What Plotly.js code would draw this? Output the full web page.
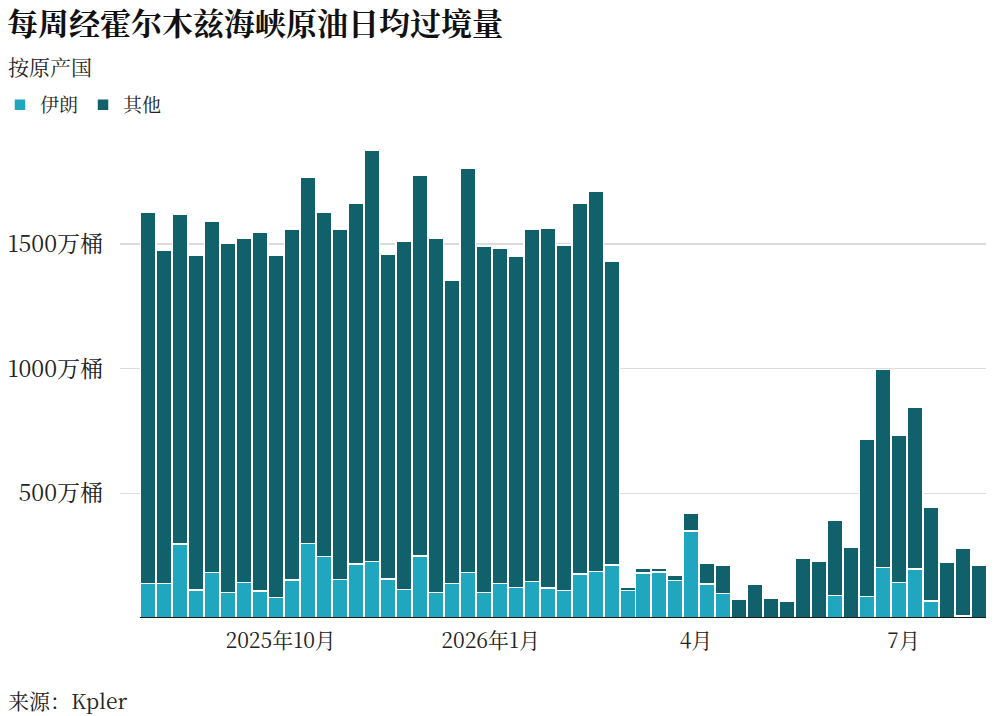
<!DOCTYPE html>
<html>
<head>
<meta charset="utf-8">
<script src="https://cdn.plot.ly/plotly-3.0.1.min.js"></script>
<style>
  html, body { margin: 0; padding: 0; background: #fff; }
  #chart { width: 999px; height: 716px; }
</style>
</head>
<body>
<div id="chart"></div>
<script>
// weekly volumes, 万桶/日
var startWeek = '2025-08-04';
var iran = [139, 139, 297, 112, 182, 102, 142, 108, 83, 152,
            299, 246, 155, 217, 226, 156, 115, 249, 102, 139,
            182, 102, 139, 123, 146, 120, 110, 176, 186, 212,
            111, 181, 185, 151, 349, 136, 99, 0, 0, 0,
            0, 0, 0, 91, 3, 86, 203, 142, 196, 68,
            0, 8, 2];
var total = [1628, 1476, 1620, 1454, 1592, 1502, 1525, 1549, 1457, 1559,
             1768, 1629, 1559, 1663, 1878, 1460, 1512, 1774, 1524, 1354,
             1806, 1493, 1485, 1450, 1559, 1563, 1496, 1663, 1712, 1430,
             124, 200, 200, 171, 420, 219, 211, 75, 134, 79,
             66, 239, 229, 394, 285, 716, 996, 735, 846, 445,
             223, 279, 210];
var tickDates = ['2025-10-01', '2026-01-01', '2026-04-01', '2026-07-01'];
var tickLabels = ['2025年10月', '2026年1月', '4月', '7月'];
var yTicks = [500, 1000, 1500];
var yLabels = ['500万桶', '1000万桶', '1500万桶'];

var DAY = 86400000;
var t0 = Date.parse(startWeek + 'T00:00:00Z');
var weeks = iran.map(function (v, i) {
  return new Date(t0 + i * 7 * DAY).toISOString().slice(0, 10);
});
var other = total.map(function (v, i) { return v - iran[i]; });

function iso(ms) { return new Date(ms).toISOString().replace('Z', ''); }

var serif = '"Noto Serif CJK SC", "Source Han Serif SC", "Liberation Serif", "DejaVu Serif", "Noto Sans CJK SC", serif';

var W = 999, H = 716;
var mL = 120, mR = 13, mT = 140, mB = 98;
var plotW = W - mL - mR, plotH = H - mT - mB;
function px(x) { return (x - mL) / plotW; }
function py(y) { return (H - mB - y) / plotH; }

var traces = [
  {
    type: 'bar', name: '伊朗', x: weeks, y: iran,
    marker: { color: '#20a7bf', line: { color: '#ffffff', width: 1.5 } },
    hoverinfo: 'skip'
  },
  {
    type: 'bar', name: '其他', x: weeks, y: other,
    marker: { color: '#10616b', line: { color: '#ffffff', width: 1.5 } },
    hoverinfo: 'skip'
  }
];

var first = Date.parse(weeks[0] + 'T00:00:00Z');
var last = Date.parse(weeks[weeks.length - 1] + 'T00:00:00Z');

var layout = {
  width: W, height: H,
  margin: { l: mL, r: mR, t: mT, b: mB, pad: 0 },
  paper_bgcolor: '#ffffff', plot_bgcolor: '#ffffff',
  barmode: 'stack', bargap: 0.03,
  font: { family: serif, color: '#222222', size: 21 },
  title: {
    text: '<b>每周经霍尔木兹海峡原油日均过境量</b>',
    font: { family: serif, size: 31, color: '#111111' },
    xref: 'container', x: 7 / W, xanchor: 'left',
    yref: 'container', y: 1 - 24 / H, yanchor: 'middle'
  },
  showlegend: true,
  legend: {
    orientation: 'h', traceorder: 'normal',
    xref: 'container', x: -5 / W, xanchor: 'left',
    yref: 'container', y: 1 - 105 / H, yanchor: 'middle',
    font: { family: serif, size: 19, color: '#222222' },
    itemwidth: 30, bgcolor: 'rgba(0,0,0,0)'
  },
  xaxis: {
    type: 'date',
    range: [iso(first - 12.4 * DAY), iso(last + 3.1 * DAY)],
    tickvals: tickDates, ticktext: tickLabels,
    showgrid: false, zeroline: false, showline: false,
    ticks: '', ticklabelstandoff: 8,
    tickfont: { family: serif, size: 21, color: '#222222' },
    fixedrange: true
  },
  yaxis: {
    range: [0, plotH / 0.2493],
    tickvals: yTicks, ticktext: yLabels,
    showgrid: true, gridcolor: '#dcdcdc', gridwidth: 1.5,
    zeroline: false, showline: false, ticks: '',
    ticklabelstandoff: 16,
    tickfont: { family: serif, size: 23, color: '#222222' },
    fixedrange: true
  },
  shapes: [
    {
      type: 'line', xref: 'x', yref: 'y',
      x0: iso(first - 3.7 * DAY), x1: iso(last + 3.1 * DAY), y0: 0, y1: 0,
      line: { color: '#1a1a1a', width: 2 }
    }
  ],
  annotations: [
    {
      text: '按原产国', xref: 'paper', yref: 'paper',
      x: px(6), y: py(66), xanchor: 'left', yanchor: 'middle',
      showarrow: false, font: { family: serif, size: 21, color: '#222222' }
    },
    {
      text: '来源：Kpler', xref: 'paper', yref: 'paper',
      x: px(6), y: py(700), xanchor: 'left', yanchor: 'middle',
      showarrow: false, font: { family: serif, size: 21, color: '#222222' }
    }
  ]
};

Plotly.newPlot('chart', traces, layout, { displayModeBar: false, staticPlot: true });
</script>
</body>
</html>
